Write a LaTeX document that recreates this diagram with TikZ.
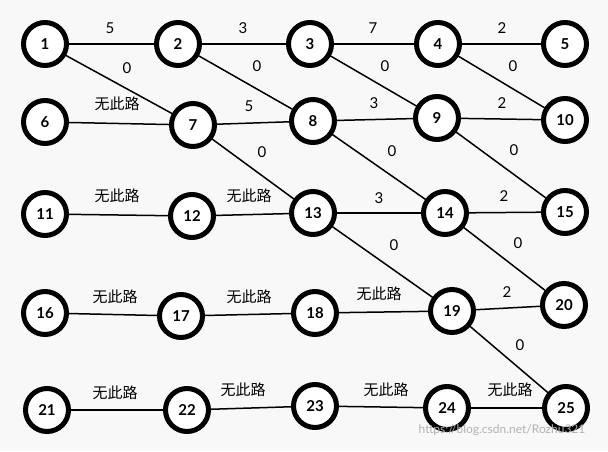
\documentclass[tikz,border=0pt]{standalone}
\usepackage{fontspec}
\setmainfont{Lato}
\newfontfamily\cjk{Noto Sans CJK SC}
\begin{document}
\begin{tikzpicture}[x=1pt,y=-1pt,
  nd/.style={circle,draw=black,line width=5pt,fill=white,minimum size=43pt,inner sep=0pt,font=\fontsize{15}{15}\selectfont\bfseries},
  ed/.style={line width=1.5pt},
  lb/.style={font=\fontsize{15}{15}\selectfont,inner sep=0pt},
  cl/.style={font=\cjk\fontsize{15}{15}\selectfont,inner sep=0pt}]
\useasboundingbox[fill={rgb,255:red,248;green,248;blue,248}] (0,0) rectangle (608,451);
\foreach \n/\x/\y in {1/45/44,2/178/44,3/310/44,4/438/44,5/565/44,
 6/45/122,7/193/125,8/313/121,9/437/118,10/565/120,
 11/45/214,12/192/216,13/313/213,14/445/213,15/565/212,
 16/45/313,17/181/316,18/315/313,19/452/311,20/564/305,
 21/47/410,22/187/410,23/315/406,24/447/408,25/566/408}
 \coordinate (c\n) at (\x,\y);
\foreach \a/\b in {1/2,2/3,3/4,4/5,1/7,2/8,3/9,4/10,6/7,7/8,8/9,9/10,7/13,8/14,9/15,11/12,12/13,13/14,14/15,13/19,14/20,16/17,17/18,18/19,19/20,19/25,21/22,22/23,23/24,24/25}
 \draw[ed] (c\a) -- (c\b);
\foreach \n in {1,...,25} \node[nd] (n\n) at (c\n) {\n};
\foreach \t/\x/\y in {5/110/28,3/243/28,7/373/28,2/502/28,0/127/68,0/257/66,0/385/66,0/513/66,
 5/249/106,3/374/103,2/502/103,0/262/152,0/392/151,0/514/150,3/379/198,2/504/196,0/394/245,0/518/243,2/507/292,0/520/345}
 \node[lb] at (\x,\y) {\t};
\foreach \x/\y in {117/104,117/196,249/196,115/297,249/297,379/294,115/393,243/390,386/390,510/390}
 \node[cl] at (\x,\y) {无此路};
\node[font=\fontsize{12}{12}\selectfont,text=gray!60,inner sep=0pt] at (502,430) {https://blog.csdn.net/Rozhu321};
\end{tikzpicture}
\end{document}
